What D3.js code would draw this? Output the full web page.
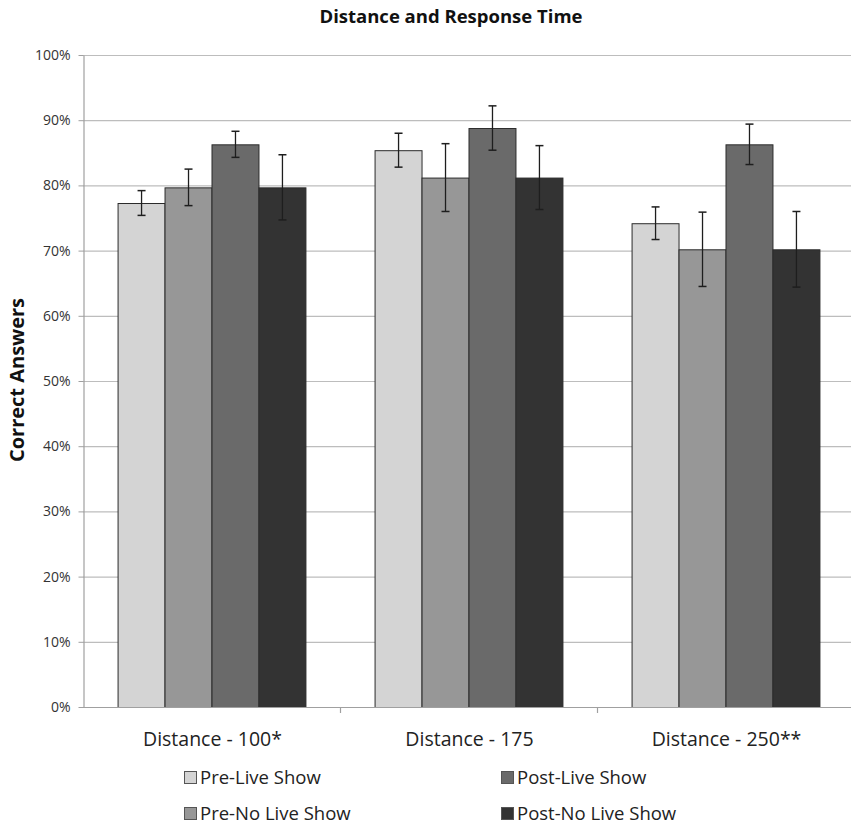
<!DOCTYPE html>
<html>
<head>
<meta charset="utf-8">
<script src="https://cdn.jsdelivr.net/npm/d3@7"></script>
<style>
  html, body { margin: 0; padding: 0; background: #fff; }
  svg { display: block; font-family: "Open Sans", "Noto Sans", sans-serif; }
</style>
</head>
<body>
<svg id="chart" width="851" height="827"></svg>
<script>
// Categories along the x axis
const categories = ["Distance - 100*", "Distance - 175", "Distance - 250**"];
// Series (conditions) shown in each group
const seriesNames = ["Pre-Live Show", "Pre-No Live Show", "Post-Live Show", "Post-No Live Show"];
const seriesColors = ["#d4d4d4", "#979797", "#6a6a6a", "#333333"];
// Share of correct answers (%) per series, one value per category
const preLive     = [77.3, 85.4, 74.2];
const preNoLive   = [79.7, 81.2, 70.2];
const postLive    = [86.3, 88.8, 86.3];
const postNoLive  = [79.7, 81.2, 70.2];
// Error bar half-widths (%)
const preLiveErr    = [1.9, 2.6, 2.5];
const preNoLiveErr  = [2.8, 5.2, 5.7];
const postLiveErr   = [2.0, 3.4, 3.1];
const postNoLiveErr = [5.0, 4.9, 5.8];
// Y axis tick values (%)
const yTicks = [0, 10, 20, 30, 40, 50, 60, 70, 80, 90, 100];

const values = [preLive, preNoLive, postLive, postNoLive];
const errors = [preLiveErr, preNoLiveErr, postLiveErr, postNoLiveErr];

const svg = d3.select("#chart");
const W = 851;
const y0 = 707, y1 = 55;
const fontFam = '"Open Sans", "Noto Sans", sans-serif';

const x0 = d3.scaleBand().domain(categories).range([83, 854]).paddingInner(0).paddingOuter(0);
const bw = x0.bandwidth();
const x1 = d3.scaleBand().domain(seriesNames).range([bw * 0.1345, bw * 0.8655]).padding(0);
const y = d3.scaleLinear().domain([0, 100]).range([y0, y1]);

// Gridlines
svg.append("g")
  .selectAll("line").data(yTicks.filter(t => t > 0)).join("line")
  .attr("x1", 83).attr("x2", W)
  .attr("y1", d => y(d) + 0.5).attr("y2", d => y(d) + 0.5)
  .attr("stroke", "#bdbdbd").attr("stroke-width", 1.2);

// Y axis
const yAxis = svg.append("g").attr("transform", "translate(83.5,0)")
  .call(d3.axisLeft(y).tickValues(yTicks).tickFormat(d => d + "%").tickSize(5).tickSizeOuter(0))
  .attr("font-family", fontFam).attr("font-size", 14);
yAxis.select(".domain").attr("stroke", "#a0a0a0").attr("stroke-width", 1.2);
yAxis.selectAll(".tick line").attr("stroke", "#a0a0a0");
yAxis.selectAll(".tick text").attr("fill", "#333").attr("x", -13);

// Bars
const groups = svg.append("g").selectAll("g").data(categories).join("g")
  .attr("transform", d => `translate(${x0(d)},0)`);

groups.each(function(cat, ci) {
  const g = d3.select(this);
  seriesNames.forEach((s, si) => {
    const v = values[si][ci];
    g.append("rect")
      .attr("x", x1(s) + 0.5)
      .attr("y", y(v) + 0.5)
      .attr("width", x1.bandwidth())
      .attr("height", y(0) - y(v))
      .attr("fill", seriesColors[si])
      .attr("stroke", "#2b2b2b")
      .attr("stroke-width", 1);
  });
});

// Error bars
groups.each(function(cat, ci) {
  const g = d3.select(this);
  seriesNames.forEach((s, si) => {
    const v = values[si][ci], e = errors[si][ci];
    const cx = x1(s) + x1.bandwidth() / 2 + 0.5;
    const cap = 4;
    const top = y(v + e), bot = y(v - e);
    g.append("line").attr("x1", cx).attr("x2", cx).attr("y1", top).attr("y2", bot)
      .attr("stroke", "#1e1e1e").attr("stroke-width", 1.3);
    [top, bot].forEach(yy => g.append("line")
      .attr("x1", cx - cap).attr("x2", cx + cap).attr("y1", yy).attr("y2", yy)
      .attr("stroke", "#1e1e1e").attr("stroke-width", 1.5));
  });
});

// X axis
const xAxisG = svg.append("g");
xAxisG.append("line").attr("x1", 83).attr("x2", W).attr("y1", y0 + 0.5).attr("y2", y0 + 0.5)
  .attr("stroke", "#a0a0a0").attr("stroke-width", 1.2);
xAxisG.selectAll("line.tk").data([x0(categories[1]), x0(categories[2])]).join("line")
  .attr("class", "tk")
  .attr("x1", d => d + 0.5).attr("x2", d => d + 0.5)
  .attr("y1", y0).attr("y2", y0 + 6)
  .attr("stroke", "#a0a0a0").attr("stroke-width", 1.2);
xAxisG.selectAll("text").data(categories).join("text")
  .attr("x", d => x0(d) + bw / 2 + 1)
  .attr("y", 746)
  .attr("text-anchor", "middle")
  .attr("font-size", 19.5).attr("fill", "#222")
  .text(d => d);

// Title
svg.append("text").attr("x", 451).attr("y", 23).attr("text-anchor", "middle")
  .attr("font-size", 18.5).attr("font-weight", "bold").attr("fill", "#111")
  .text("Distance and Response Time");

// Y axis label
svg.append("text").attr("transform", "translate(24,380) rotate(-90)")
  .attr("text-anchor", "middle").attr("font-size", 20).attr("font-weight", "bold").attr("fill", "#111")
  .text("Correct Answers");

// Legend
const legendPos = [[184, 771], [184, 807], [501, 771], [501, 807]];
const leg = svg.append("g").selectAll("g").data(seriesNames).join("g")
  .attr("transform", (d, i) => `translate(${legendPos[i][0]},${legendPos[i][1]})`);
leg.append("rect").attr("x", 0.5).attr("y", 0.5).attr("width", 12).attr("height", 12)
  .attr("fill", (d, i) => seriesColors[i]).attr("stroke", "#555").attr("stroke-width", 1);
leg.append("text").attr("x", 16).attr("y", 13)
  .attr("font-size", 18.5).attr("fill", "#222").text(d => d);
</script>
</body>
</html>
